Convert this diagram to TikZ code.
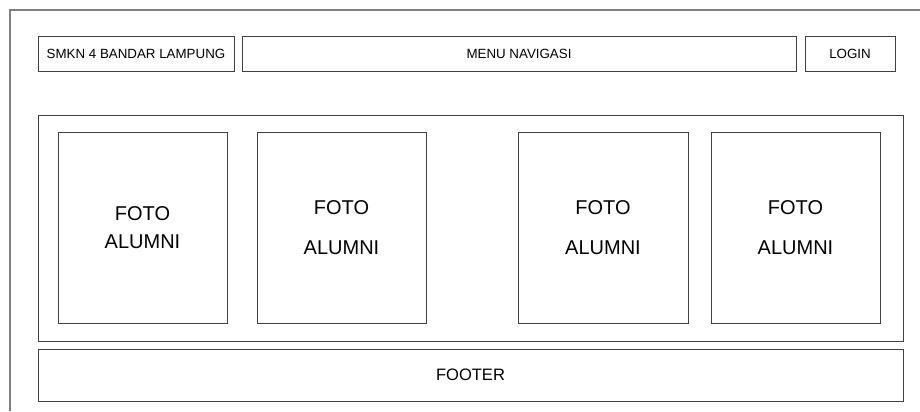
\documentclass[tikz,border=0pt]{standalone}
\usepackage{fontspec}
\setmainfont{Liberation Sans}
\begin{document}
\begin{tikzpicture}[x=0.75pt,y=-0.75pt,
  line width=0.7pt,
  frame/.style={draw=black!50},
  box/.style={draw=black!75, inner sep=0pt, outer sep=0pt, rectangle},
  small/.style={font=\fontsize{10}{12}\selectfont},
  big/.style={align=center, font=\fontsize{15}{30}\selectfont},
  bigtight/.style={align=center, font=\fontsize{15}{21}\selectfont}]
\useasboundingbox[fill=white] (0,0) rectangle (920,411);
\coordinate (fbl) at (10,411);
\coordinate (ftl) at (10,10);
\coordinate (ftr) at (920,10);
\draw[frame, line width=0.9pt] (fbl) -- (ftl) -- (ftr);
\node[box, small, minimum width=196*0.75pt, minimum height=35*0.75pt] (smkn) at (136,53.5) {SMKN 4 BANDAR LAMPUNG};
\node[box, small, minimum width=554*0.75pt, minimum height=35*0.75pt] (menu) at (519,53.5) {MENU NAVIGASI};
\node[box, small, minimum width=90*0.75pt, minimum height=35*0.75pt] (login) at (850,53.5) {LOGIN};
\node[box, minimum width=865*0.75pt, minimum height=226*0.75pt] (main) at (470.5,228) {};
\node[box, bigtight, minimum width=169*0.75pt, minimum height=191*0.75pt] (f1) at (142.5,227.5) {FOTO\\ALUMNI};
\node[box, big, minimum width=169*0.75pt, minimum height=191*0.75pt] (f2) at (341.5,227.5) {FOTO\\ALUMNI};
\node[box, big, minimum width=170*0.75pt, minimum height=191*0.75pt] (f3) at (603,227.5) {FOTO\\ALUMNI};
\node[box, big, minimum width=169*0.75pt, minimum height=191*0.75pt] (f4) at (795.5,227.5) {FOTO\\ALUMNI};
\node[box, font=\fontsize{12.4}{14}\selectfont, minimum width=865*0.75pt, minimum height=52*0.75pt] (footer) at (470.5,375) {FOOTER};
\end{tikzpicture}
\end{document}
